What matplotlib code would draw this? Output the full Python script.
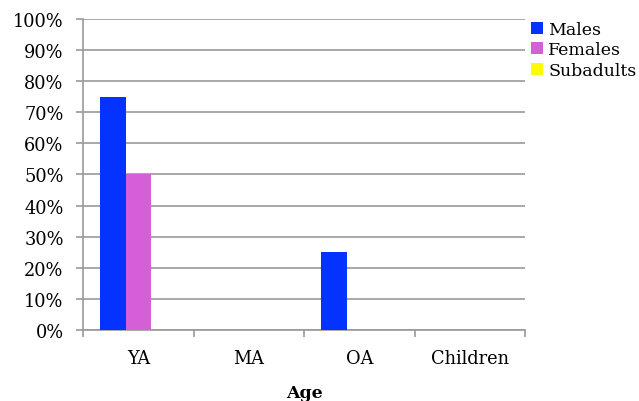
import numpy as np
import matplotlib
matplotlib.use("Agg")
import matplotlib.pyplot as plt

categories = ["YA", "MA", "OA", "Children"]
males = [75, 0, 25, 0]
females = [50, 0, 0, 0]
subadults = [0, 0, 0, 0]
series_names = ["Males", "Females", "Subadults"]
colors = ["#0433ff", "#d45fd6", "#fffb00"]
yticks = list(range(0, 101, 10))

plt.rcParams['font.family'] = ['DejaVu Serif']

fig = plt.figure(figsize=(6.39, 4.02), dpi=100, facecolor='white')
ax = fig.add_axes([0.130, 0.177, 0.692, 0.773])

x = np.arange(len(categories))
w = 0.23
handles = []
for i, (vals, name, c) in enumerate(zip([males, females, subadults], series_names, colors)):
    h = ax.bar(x + (i - 1) * w, vals, width=w, color=c, label=name, zorder=3)
    handles.append(h)

ax.set_xlim(-0.5, len(categories) - 0.5)
ax.set_ylim(0, 100)
ax.set_yticks(yticks)
ax.set_yticklabels([f"{v}%" for v in yticks], fontsize=12.8)
ax.set_xticks(x)
ax.set_xticklabels(categories, fontsize=12.8)
ax.set_xticks(np.arange(-0.5, len(categories)), minor=True)
ax.tick_params(axis='x', which='major', length=0, pad=14)
ax.tick_params(axis='x', which='minor', length=5, color='#9a9a9a', width=1.2)
ax.tick_params(axis='y', length=5, color='#9a9a9a', width=1.2, pad=9)

ax.yaxis.grid(True, color='#9a9a9a', linewidth=1.2, zorder=0)
for s in ['top', 'right']:
    ax.spines[s].set_visible(False)
for s in ['left', 'bottom']:
    ax.spines[s].set_color('#9a9a9a')
    ax.spines[s].set_linewidth(1.2)

ax.set_xlabel("Age", fontsize=12.5, fontweight='bold', labelpad=12)

fig.legend(handles=handles, labels=series_names, loc='upper left',
           bbox_to_anchor=(0.82, 0.963), frameon=False, fontsize=12.5,
           handlelength=0.7, handleheight=0.7, handletextpad=0.3,
           labelspacing=0.2, borderaxespad=0)

fig.savefig("out.png", dpi=100, facecolor='white')
